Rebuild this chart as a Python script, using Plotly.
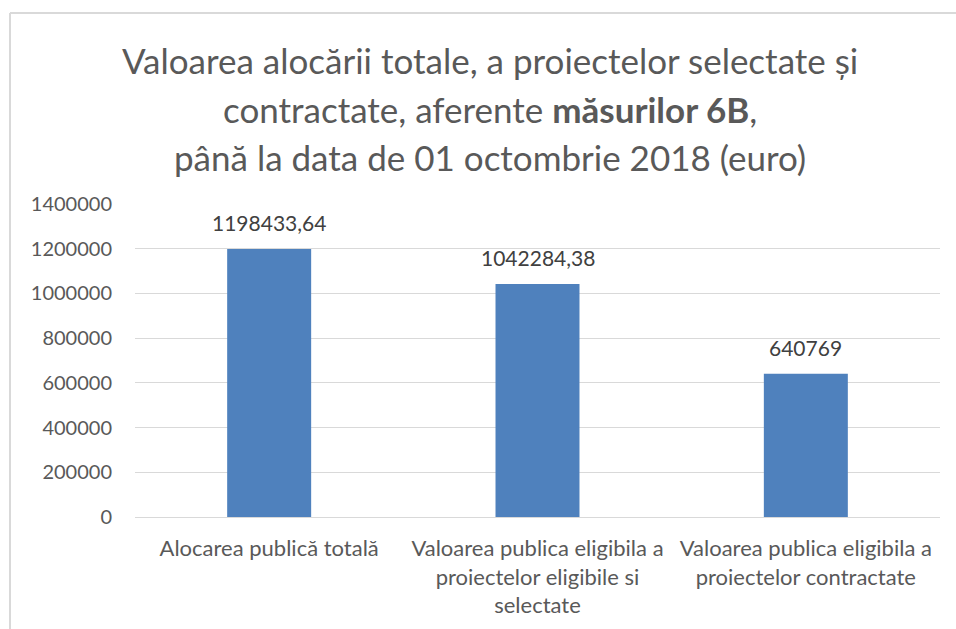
import plotly.graph_objects as go

categories = [
    "Alocarea publică totală",
    "Valoarea publica eligibila a<br>proiectelor eligibile si<br>selectate",
    "Valoarea publica eligibila a<br>proiectelor contractate",
]
values = [1198433.64, 1042284.38, 640769]
title_lines = [
    "Valoarea alocării totale, a proiectelor selectate și",
    "contractate, aferente <b>măsurilor 6B</b>,",
    "până la data de 01 octombrie 2018 (euro)",
]
tick_vals = [0, 200000, 400000, 600000, 800000, 1000000, 1200000, 1400000]

FONT = "Lato, 'Open Sans', sans-serif"
GRAY = "#595959"

# plot area geometry in pixels
W, H = 956, 629
L, R, T, B = 135, 16, 204, 112
PH = H - T - B
PW = W - L - R


def py(ypix):
    return (H - B - ypix) / PH


def px(xpix):
    return (xpix - L) / PW


def fmt(v):
    s = f"{v:.2f}".rstrip("0").rstrip(".")
    return s.replace(".", ",")


fig = go.Figure(
    go.Bar(
        x=categories,
        y=values,
        marker=dict(color="#4F81BD", line=dict(width=0)),
        width=0.313,
        hoverinfo="skip",
    )
)

for c, v in zip(categories, values):
    fig.add_annotation(
        x=c, y=v, xref="x", yref="y", text=fmt(v), showarrow=False,
        yanchor="bottom", yshift=12, font=dict(family=FONT, size=21, color="#404040"),
    )

title_y = [60, 109, 157]
for t, yp in zip(title_lines, title_y):
    fig.add_annotation(
        x=px(490), y=py(yp), xref="paper", yref="paper", text=t, showarrow=False,
        xanchor="center", yanchor="middle",
        font=dict(family=FONT, size=35, color=GRAY),
    )

# chart border (top and left edges visible)
border = dict(color="#D9D9D9", width=2)
fig.add_shape(type="line", xref="paper", yref="paper",
              x0=px(10), x1=px(960), y0=py(13), y1=py(13), line=border)
fig.add_shape(type="line", xref="paper", yref="paper",
              x0=px(10), x1=px(10), y0=py(13), y1=py(640), line=border)

fig.update_layout(
    width=W, height=H,
    margin=dict(l=L, r=R, t=T, b=B),
    paper_bgcolor="white", plot_bgcolor="white",
    showlegend=False,
    font=dict(family=FONT, size=20, color=GRAY),
    xaxis=dict(
        showgrid=False, showline=False, zeroline=False,
        tickfont=dict(family=FONT, size=22, color=GRAY),
        ticklabelstandoff=16, fixedrange=True,
    ),
    yaxis=dict(
        range=[0, 1400000], tickvals=tick_vals, tickformat="d",
        showgrid=True, gridcolor="#D9D9D9", gridwidth=1,
        zeroline=True, zerolinecolor="#D9D9D9", zerolinewidth=1,
        showline=False,
        tickfont=dict(family=FONT, size=20, color=GRAY),
        ticklabelstandoff=22, fixedrange=True,
    ),
)

fig.write_html(
    "out.html",
    config={"displayModeBar": False},
    post_script="document.body.style.margin='0';document.body.style.overflow='hidden';",
)
